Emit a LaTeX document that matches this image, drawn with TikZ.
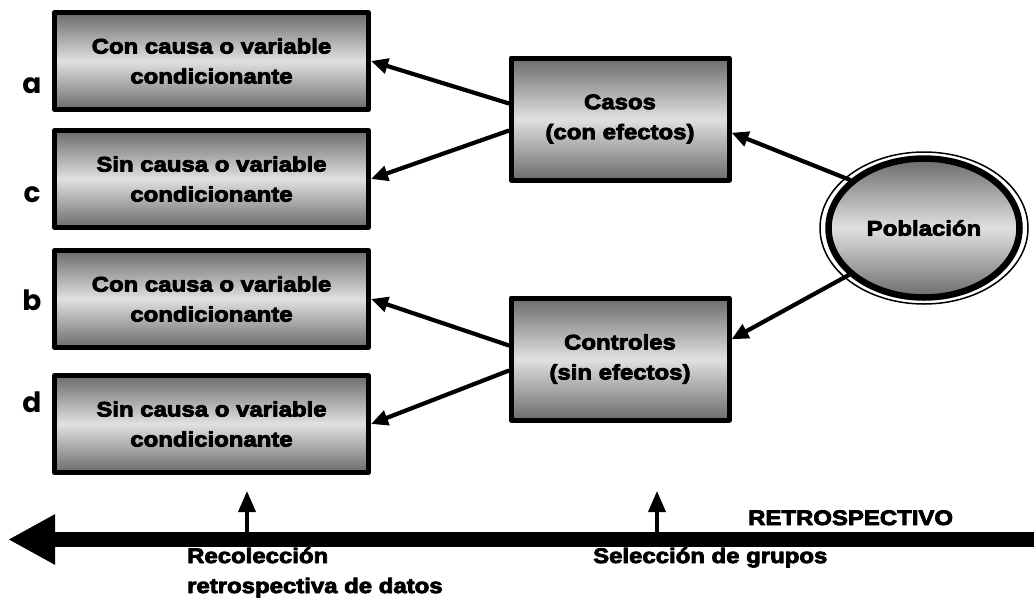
\documentclass[tikz,border=0pt]{standalone}
\usepackage{fontspec}
\newfontfamily\heavyfont{Liberation Sans}[FakeStretch=1.14,BoldFeatures={FakeBold=4}]
\newfontfamily\letterfont{Poppins}
\usetikzlibrary{arrows.meta,shapes.geometric}

\begin{document}
\begin{tikzpicture}[x=1pt,y=-1pt,line join=round,
  every node/.style={font=\heavyfont\bfseries\fontsize{21}{30}\selectfont},
  shadebox/.style={draw=black,top color=black!58,bottom color=black!58,middle color=black!12},
  causebox/.style={shadebox,line width=5pt,minimum width=314pt,minimum height=97pt,inner sep=0pt,align=center},
  groupbox/.style={shadebox,line width=5pt,minimum width=218pt,minimum height=122pt,inner sep=0pt,align=center},
  tag/.style={font=\letterfont\bfseries\fontsize{28}{28}\selectfont,anchor=base,inner sep=0pt},
  axistext/.style={anchor=base west,inner sep=0pt},
  link/.style={line width=4.2pt,line cap=round,-{Triangle[length=17pt,width=15pt]}},
  markarrow/.style={line width=3.5pt,-{Triangle[length=21pt,width=17pt]}}]
  \useasboundingbox (0,0) rectangle (1034,598);
  % left column
  \node[causebox] (a) at (211.5,61) {Con causa o variable\\condicionante};
  \node[causebox] (c) at (211.5,179) {Sin causa o variable\\condicionante};
  \node[causebox] (b) at (211.5,299) {Con causa o variable\\condicionante};
  \node[causebox] (d) at (211.5,424) {Sin causa o variable\\condicionante};
  \node[tag] (ta) at (32,93) {a};
  \node[tag] (tc) at (32,202) {c};
  \node[tag] (tb) at (32,310) {b};
  \node[tag] (td) at (32,412) {d};
  % groups
  \node[groupbox] (casos) at (620,119) {Casos\\(con efectos)};
  \node[groupbox] (controles) at (620,359) {Controles\\(sin efectos)};
  \node[ellipse,shadebox,line width=6.5pt,minimum width=191pt,minimum height=139pt,inner sep=0pt] (pob) at (924,228) {Población};
  \draw[line width=1.5pt] (pob.center) ellipse [x radius=104, y radius=76];
  \draw[link] (casos.172) -- (a.east);
  \draw[link] (casos.186) -- (c.east);
  \draw[link] (controles.173) -- (b.east);
  \draw[link] (controles.186) -- (d.east);
  \draw[link] (pob.147) -- (casos.-7);
  \draw[link] (pob.212) -- (controles.10);
  % time line
  \coordinate (tlR) at (1034,539.5);
  \coordinate (tlL) at (8,539.5);
  \draw[line width=15pt,-{Triangle[length=47pt,width=47pt]}] (tlR) -- (tlL);
  \coordinate (recol) at (247,536);
  \coordinate (recolT) at (247,491);
  \coordinate (selec) at (657,536);
  \coordinate (selecT) at (657,491);
  \draw[markarrow] (recol) -- (recolT);
  \draw[markarrow] (selec) -- (selecT);
  \node[axistext] (retro) at (748,525) {RETROSPECTIVO};
  \node[axistext] (seltext) at (593,563) {Selección de grupos};
  \node[axistext,align=left] (rectext) at (187,593) {Recolección\\retrospectiva de datos};
\end{tikzpicture}
\end{document}
